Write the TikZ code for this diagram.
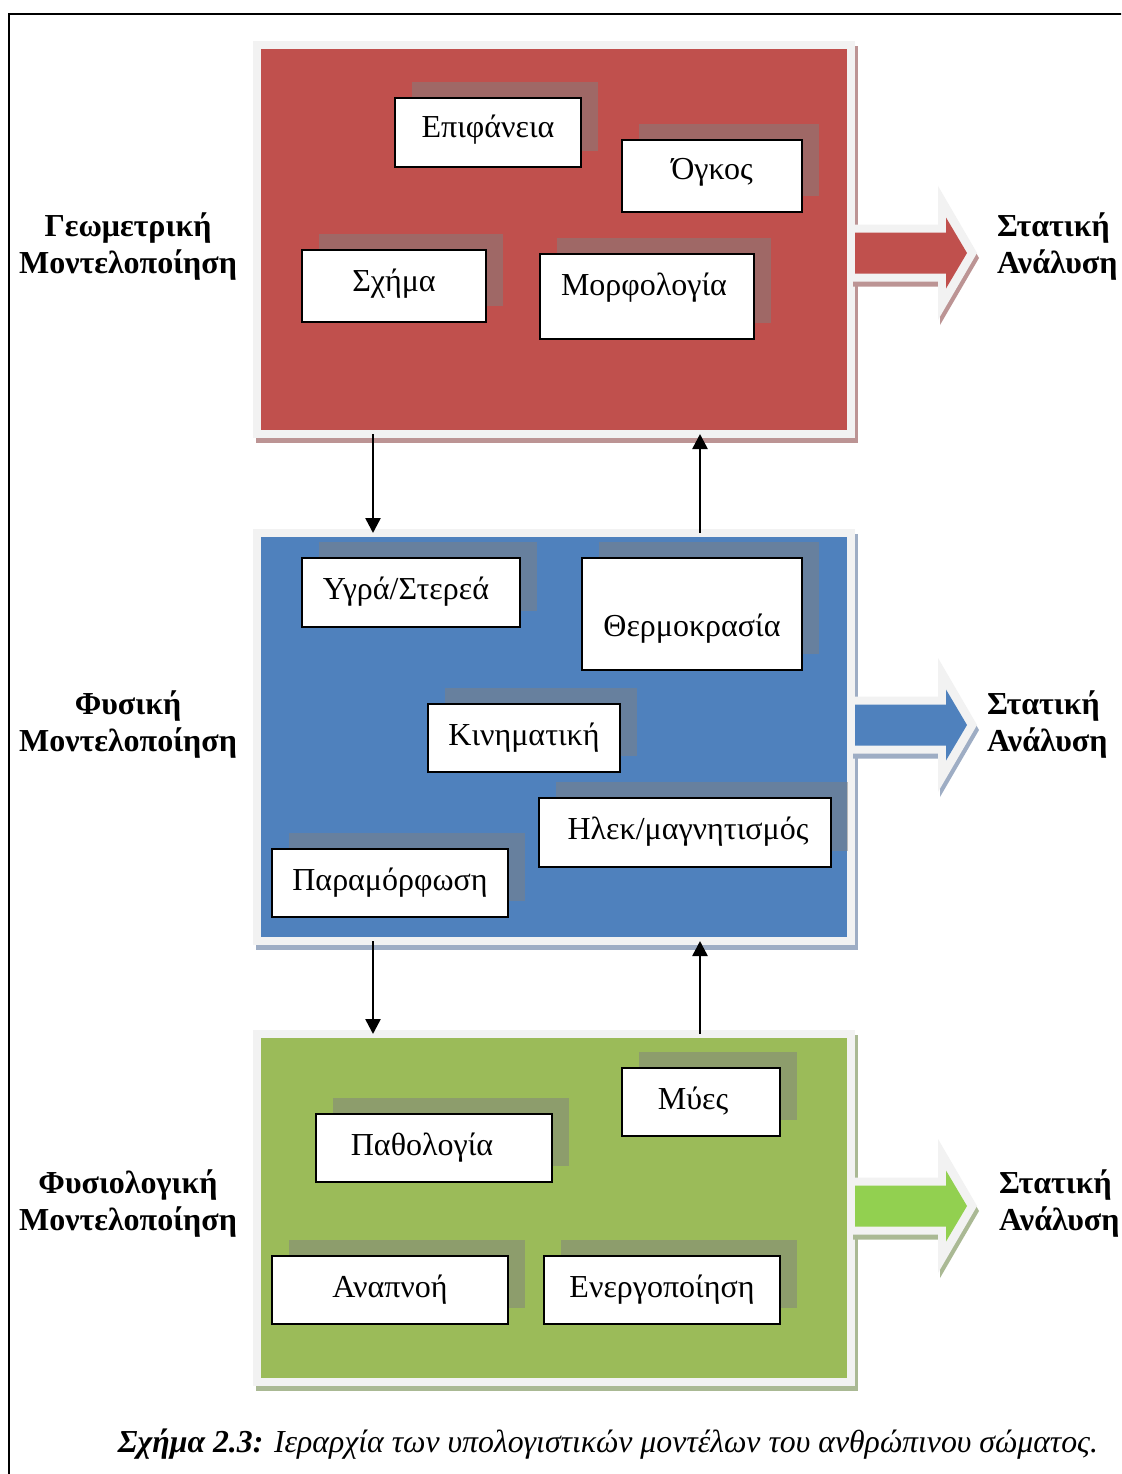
\documentclass[tikz,border=0pt]{standalone}
\usepackage{fontspec}
\setmainfont{Liberation Serif}
\usepackage{graphicx}
\usetikzlibrary{arrows.meta,shadows}

\definecolor{panelred}{HTML}{C0504D}
\definecolor{panelblue}{HTML}{4F81BD}
\definecolor{panelgreen}{HTML}{9BBB59}
\definecolor{arrowgreen}{HTML}{92D050}
\definecolor{rim}{HTML}{F2F2F2}
\definecolor{redshade}{HTML}{BC9494}
\definecolor{blueshade}{HTML}{9EADC4}
\definecolor{greenshade}{HTML}{AAB994}

\tikzset{
  panel/.style 2 args={rectangle, inner sep=0pt, outer sep=0pt, minimum width=594pt,
    fill=#1, draw=rim, line width=8pt,
    general shadow={draw=#2, fill=#2, line width=8pt, shadow xshift=3pt, shadow yshift=-5pt}},
  item/.style={rectangle, draw=black, line width=1.8pt, fill=white, inner sep=0pt,
    font=\fontsize{32}{38}\selectfont, text height=22pt, text depth=8pt,
    drop shadow={fill=black!50, opacity=0.5, shadow xshift=17pt, shadow yshift=16pt}},
  side/.style={font=\fontsize{32}{37}\selectfont\bfseries, inner sep=0pt},
  link/.style={line width=2.5pt, -{Triangle[width=15pt,length=15pt]}},
}

\begin{document}
\begin{tikzpicture}[x=1pt, y=-1pt]
  \clip (0,0) rectangle (1121,1474);
  \fill[white] (0,0) rectangle (1121,1474);
  % page frame
  \draw[line width=2.5pt] (9,14) rectangle (1140,1490);

  % the three modelling layers
  \node[panel={panelred}{redshade}, minimum height=389pt] (geopanel) at (554,239.5) {};
  \node[panel={panelblue}{blueshade}, minimum height=408pt] (physpanel) at (554,737) {};
  \node[panel={panelgreen}{greenshade}, minimum height=348pt] (biopanel) at (554,1208) {};

  % geometric layer
  \node[item, minimum width=186pt, minimum height=69pt, text height=20pt, text depth=9pt] (surf) at (488,132.5) {Επιφάνεια};
  \node[item, minimum width=180pt, minimum height=72pt, text height=20pt, text depth=12pt] (vol) at (712,176) {Όγκος};
  \node[item, minimum width=184pt, minimum height=72pt, text height=20pt, text depth=10pt] (shape) at (394,286) {Σχήμα};
  \node[item, minimum width=214pt, minimum height=85pt, text height=14pt, text depth=16pt] (morph) at (647,296.5) {Μορφολογία\hspace*{6pt}};

  % physical layer
  \node[item, minimum width=218pt, minimum height=69pt] (fluid) at (411,592.5) {Υγρά/Στερεά\hspace*{10pt}};
  \node[item, minimum width=220pt, minimum height=112pt, text height=50pt, text depth=6pt] (temp) at (692,614) {Θερμοκρασία};
  \node[item, minimum width=192pt, minimum height=68pt] (kin) at (524,738) {Κινηματική};
  \node[item, minimum width=292pt, minimum height=69pt] (elec) at (685,832.5) {\hspace*{6pt}Ηλεκ/μαγνητισμός};
  \node[item, minimum width=236pt, minimum height=68pt] (deform) at (390,883) {Παραμόρφωση};

  % physiological layer
  \node[item, minimum width=158pt, minimum height=68pt] (muscle) at (701,1102) {Μύες\hspace*{16pt}};
  \node[item, minimum width=236pt, minimum height=68pt] (path) at (434,1148) {Παθολογία\hspace*{24pt}};
  \node[item, minimum width=236pt, minimum height=68pt] (breath) at (390,1290) {Αναπνοή};
  \node[item, minimum width=236pt, minimum height=68pt] (activ) at (662,1290) {Ενεργοποίηση};

  % links between the layers
  \coordinate (xl) at (373,0);
  \coordinate (xr) at (700,0);
  \draw[link] (geopanel.south -| xl) -- (physpanel.north -| xl);
  \draw[link] (physpanel.north -| xr) -- (geopanel.south -| xr);
  \draw[link] (physpanel.south -| xl) -- (biopanel.north -| xl);
  \draw[link] (biopanel.north -| xr) -- (physpanel.south -| xr);

  % block arrows towards the static analysis
  \foreach \cy/\fc/\sc in {253/panelred/redshade, 725/panelblue/blueshade, 1206/arrowgreen/greenshade} {
    \fill[\sc, shift={(2,5)}] (851,\cy-28.5) -- (938,\cy-28.5) -- (938,\cy-67) -- (977,\cy)
      -- (938,\cy+67) -- (938,\cy+28.5) -- (851,\cy+28.5) -- cycle;
    \fill[rim] (851,\cy-28.5) -- (938,\cy-28.5) -- (938,\cy-67) -- (977,\cy)
      -- (938,\cy+67) -- (938,\cy+28.5) -- (851,\cy+28.5) -- cycle;
    \fill[\fc] (855,\cy-20.5) -- (946,\cy-20.5) -- (946,\cy-35.5) -- (967,\cy)
      -- (946,\cy+35.5) -- (946,\cy+20.5) -- (855,\cy+20.5) -- cycle;
  }

  % layer names
  \node[side, align=center] (geoname) at (128,247) {Γεωμετρική\\Μοντελοποίηση};
  \node[side, align=center] (physname) at (128,725) {Φυσική\\Μοντελοποίηση};
  \node[side, align=center] (bioname) at (128,1204) {Φυσιολογική\\Μοντελοποίηση};

  \node[side, align=left, anchor=west] (geoout) at (997,247) {Στατική\\Ανάλυση};
  \node[side, align=left, anchor=west] (physout) at (987,725) {Στατική\\Ανάλυση};
  \node[side, align=left, anchor=west] (bioout) at (999,1204) {Στατική\\Ανάλυση};

  % caption
  \node[inner sep=0pt, anchor=base] (caption) at (608,1452)
    {\resizebox{980pt}{\height}{\fontsize{32}{38}\selectfont\itshape\textbf{Σχήμα 2.3:} Ιεραρχία των υπολογιστικών μοντέλων του ανθρώπινου σώματος.}};
\end{tikzpicture}
\end{document}
